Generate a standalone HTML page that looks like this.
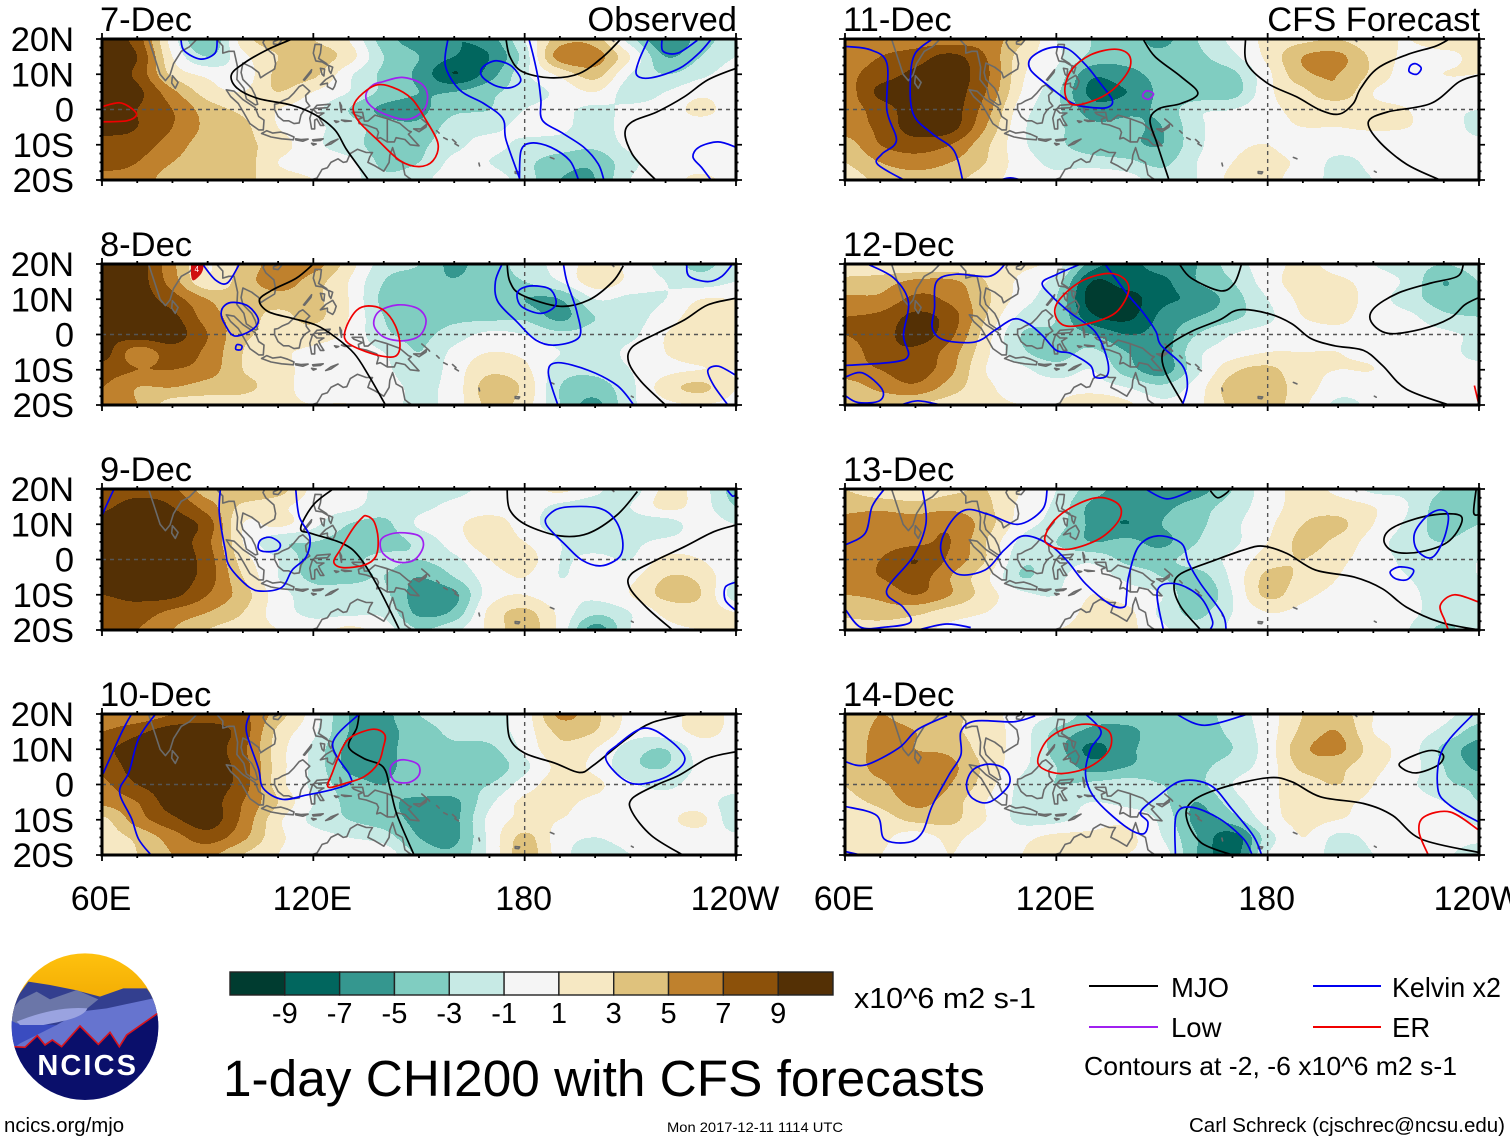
<!DOCTYPE html>
<html lang="en">
<head>
<meta charset="utf-8">
<title>1-day CHI200 with CFS forecasts</title>
<style>
html,body{margin:0;padding:0;background:#fff;width:1510px;height:1142px;overflow:hidden}
svg{display:block;font-family:"Liberation Sans",sans-serif}
</style>
</head>
<body>
<svg id="chart" xmlns="http://www.w3.org/2000/svg" width="1510" height="1142" viewBox="0 0 1510 1142">
  <rect width="1510" height="1142" fill="#fff"/>
  <g id="panels"></g>
  <g id="colorbar"></g>
  <text x="854" y="1008" font-size="29" textLength="182" lengthAdjust="spacingAndGlyphs">x10^6 m2 s-1</text>
  <text x="223" y="1096" font-size="51" textLength="762" lengthAdjust="spacingAndGlyphs">1-day CHI200 with CFS forecasts</text>
  <g>
    <line x1="1089" x2="1158" y1="986" y2="986" stroke="#000" stroke-width="2"/>
    <text x="1171" y="997" font-size="27.5">MJO</text>
    <line x1="1313" x2="1381" y1="986" y2="986" stroke="#0000f0" stroke-width="2"/>
    <text x="1392" y="997" font-size="27.5" textLength="109" lengthAdjust="spacingAndGlyphs">Kelvin x2</text>
    <line x1="1089" x2="1158" y1="1027" y2="1027" stroke="#a020f0" stroke-width="2"/>
    <text x="1171" y="1037" font-size="27.5">Low</text>
    <line x1="1313" x2="1381" y1="1027" y2="1027" stroke="#f00000" stroke-width="2"/>
    <text x="1392" y="1037" font-size="27.5">ER</text>
    <text x="1084" y="1075" font-size="26" textLength="373" lengthAdjust="spacingAndGlyphs">Contours at -2, -6 x10^6 m2 s-1</text>
  </g>
  <text x="4" y="1132" font-size="20.4">ncics.org/mjo</text>
  <text x="667" y="1132" font-size="14" textLength="176" lengthAdjust="spacingAndGlyphs">Mon 2017-12-11 1114 UTC</text>
  <text x="1189" y="1132" font-size="20" textLength="316" lengthAdjust="spacingAndGlyphs">Carl Schreck (cjschrec@ncsu.edu)</text>
  <g transform="translate(0 940) scale(0.33333)">
    <defs>
      <clipPath id="logoClip"><circle cx="255" cy="260" r="220"/></clipPath>
      <linearGradient id="sky" x1="0" y1="0" x2="0" y2="1"><stop offset="0" stop-color="#ffc20e"/><stop offset="1" stop-color="#eea400"/></linearGradient>
    </defs>
    <g clip-path="url(#logoClip)">
      <rect x="30" y="35" width="450" height="200" fill="url(#sky)"/>
      <path d="M30,200 L85,125 L150,135 L225,150 L300,170 L370,145 L440,145 L480,200 L480,400 L30,400z" fill="#333f8f"/>
      <path d="M30,215 L60,180 L110,155 L150,178 L230,150 L295,178 L250,215 L30,260z" fill="#6b76a8"/>
      <path d="M240,215 L320,205 L460,175 L485,220 L485,400 L30,400 L40,320 L100,285 L170,255z" fill="#6674cf"/>
      <path d="M30,240 L50,250 L170,255 L60,310 L40,325 L30,325z" fill="#3a4cc0"/>
      <path d="M50,245 C100,225 180,198 262,205 C250,235 180,245 130,255 L60,255z" fill="#9aa3e0"/>
      <path d="M40,320 L75,322 L112,287 L135,315 L157,300 L185,320 L240,258 L295,313 L330,277 L358,320 L380,285 L470,222 L490,215 L490,500 L20,500z" fill="#0a0f6b" stroke="#d8141e" stroke-width="5"/>
      <text x="112" y="405" font-size="87" font-weight="bold" fill="#fff" textLength="296" lengthAdjust="spacing">NCICS</text>
    </g>
  </g>
</svg>
<script>
// ---- grid axes ----
const lons = [60,70,80,90,100,110,120,130,140,150,160,170,180,190,200,210,220,230,240];
const lats = [20,15,10,5,0,-5,-10,-15,-20];
const lonLabels = [[60,'60E'],[120,'120E'],[180,'180'],[240,'120W']];
const latLabels = [[20,'20N'],[10,'10N'],[0,'0'],[-10,'10S'],[-20,'20S']];
const levels = [-9,-7,-5,-3,-1,1,3,5,7,9];
const bandColors = ['#003c30','#01665e','#35978f','#80cdc1','#c7eae5','#f5f5f5','#f6e8c3','#dfc27d','#bf812d','#8c510a','#543005'];

// ---- CHI200 anomaly (x10^6), rows 20N..20S, columns 60E..120W ----
const chi7 = [
[10,8,0,-5,2,4,3,1,-4,-6,-7,-6,-1,4,4,-2,-7,-4,-2],
[10,9,1,-3,.5,3,4,2,-3,-5,-7,-7,-2,6,6,1,-5,-3,-1],
[10,8.5,2.5,.5,0,3.5,3.5,-.5,-3.5,-5.5,-9,-6,-1.5,1.5,3.8,-1,-3,-1.5,0],
[10,9.5,5.5,2,1,3,1,-1,-3.5,-5,-5,-3.5,-2,-.5,1,-2,-1,.5,0],
[10,9,7,4,2.5,1,-.5,-3,-5.5,-5.5,-3.5,-3,-1,-.5,-1.5,-.5,0,1.5,0],
[10,9,7,4.5,3.5,1,-.5,-2,-4,-4.5,-2,-1.5,-.5,-.5,-2,0,0,0,0],
[8,8,6,4,3.5,2,-.5,-2,-4,-3.5,-1.5,-.5,-1.5,-2,-2.5,-.5,0,0,0],
[8,7,5,4,4,1,0,-.5,-3.5,-3,-.5,-1,-2.5,-4,-4.5,-1.5,0,0,0],
[6,6,4,4,3.5,2,1,0,-2.5,-1.5,0,0,-2,-5,-5,-1,0,1.5,0]];
const chi8 = [
[10,10,5.5,1,3.5,6,6,2,-2,-3,-5.5,-3.5,-2.5,0,1.5,.5,-2,-3.5,-2],
[10,10,6,1.5,4,6,4,1,-3,-4,-4.8,-3.5,-3,-1,2,.5,-1,-2,-1],
[10,10,8,5,3.5,4,3.5,1,-3.5,-3.5,-3.5,-3.5,-5,-5,-1,-1.5,-1,1,1],
[10,10,9.5,6,4,2.5,3.5,1,-3,-4,-3.5,-3.5,-3.5,-5.5,-3,-2,0,2,2],
[9.5,10,10,7,3.5,2.5,2,.5,-2.5,-3.5,-2,-.5,-1,-2.5,-2,-1.5,1,2,2],
[10,6,8,6.5,3,1.5,.5,0,-1,-3,-.5,1,.5,-1,-2,-.5,1,2,2],
[8,7,7,6,3,2,0,0,-.5,-2.5,0,2.5,1.5,-2,-2.5,-1,.5,1,1],
[7,5,5,4,3.5,2,0,.5,0,-1.5,0,4,2.5,-3,-4,-1.5,2,3.5,1],
[6,5,2,2,2,1.5,1,1,0,-1.5,0,3.5,2,-3,-5.5,-1.5,.5,1,.5]];
const chi9 = [
[7,8,7.5,4,5,4,.5,-.3,-1.5,-2,-1.5,-.5,0,1.5,-.5,-2,1.5,0,-4],
[8.5,10,9,6,2.5,1.5,0,-.5,-2,-1.5,-.5,0,0,-1.5,-2,-1,1.5,0,-3],
[10,10,10,8,1,1.5,-.5,-3,-3.5,-.7,.5,2,0,-2,-2,-2,-2,0,-1],
[10,10,10,7.5,1,-2.5,-3,-3.8,-3.8,-2.5,0,2,1,-1,-2,-1.5,-.5,0,0],
[10,10,10,8,2,-1,-4,-3.5,-2.5,-3,-1.5,1,2,-1,-.5,-1,1.5,1,-1],
[10,9.5,10,8,3,-1,-3.5,-3.5,-3,-5,-3,0,1,-1,0,.5,3,2.5,-1],
[9,9.5,9.5,7,4,0,-2,-2,-2.5,-6,-5.5,0,1,-.5,-.5,1,3.5,3,-2],
[8,8,6.5,5,3,0,-1.5,-1.5,-1.5,-5.5,-4.5,1.5,3.5,.5,-2.5,-1,1.5,2,1],
[7,7,5,3,2,1,0,1.5,0,-3,-1.5,1.5,4,.5,-6,-1,.5,1,1]];
const chi10 = [
[5.5,5.5,7,8,7.5,4,0,-5,-5.5,-3,-2,-1.5,0,5.5,3.5,.5,0,2,.5],
[7,8.5,10,10,8,2.5,-.5,-5,-5.5,-4,-2.5,-2,0,3.5,3,0,0,1.5,.5],
[8.5,10,10,10,7.5,2,-1.5,-5.5,-5.5,-4,-3.5,-3.5,-.5,2.5,1,-2,-3,0,0],
[7.5,10,10,10,8,2,-1.5,-5.5,-5.5,-4,-4,-4.5,-1.5,1.5,.5,-2.5,-3,-.5,0],
[6.5,9,10,10,8,2,-1.5,-4,-5,-3.5,-3.5,-3,0,2,1.5,-.7,-1.5,0,0],
[5.5,7,10,10,7,3,-1,-3.5,-4.5,-5.5,-5.5,-1.5,1.5,1.5,.5,0,0,0,-2],
[2.5,6,8.5,10,6.5,1.5,-1.5,-3,-4,-5.5,-5.5,-.5,1.5,1,0,0,.5,1.5,-2.5],
[2,3.5,6,8,5.5,1.5,0,-1,-2,-5,-5.5,-.5,3.5,0,-1,0,0,0,-.5],
[1.5,3,5,5.5,3,1,0,1,.5,-3.5,-4.5,-.5,4,0,-2.5,-1,0,0,0]];
const chi11 = [
[5.5,6,6,6,6,3.5,-1,-3,-4,-5.5,-3,-.5,1.5,2.5,3,1.5,1,2,1],
[6,7,8,9.5,7,2,-.5,-3.5,-4.5,-4.5,-3.5,-1.5,1.5,5,5.5,2.5,.5,.5,1.5],
[6.5,8,9.5,10,7.5,1.5,-1.5,-6.5,-5.5,-4.5,-4,-3.5,.5,4.5,5,2.5,0,1,1],
[6,9.5,10,10,7,1,-2.5,-7.5,-7,-4.5,-4.5,-4,.5,2.5,4.5,1,0,0,0],
[6,8,10,10,6,0,-2.5,-6,-5.5,-4.5,-1.5,-1,.5,1.5,1.5,1.5,1,-.5,-1],
[6,7.5,10,9.8,5,-.5,-2.5,-4.5,-4.5,-5,-1.5,0,.5,1,1,1.2,1,0,-1.5],
[4,7,8,7,3.5,-.5,-2.5,-4,-4.5,-5,-1.5,.5,1,0,0,0,0,0,-.5],
[3,5,6,5,3,0,-1.5,-2,-2.5,-3.5,-1,1,1.5,.5,-1.5,-.5,0,0,0],
[2,3.5,4,3.5,2,0,-.5,1,0,-2,-1,1.5,1.5,0,-1.5,-1,0,0,0]];
const chi12 = [
[2,1.5,1,1,2,1.5,0,-6,-7.5,-6,-5,-2,0,1.5,0,-1,-2,-3,-2],
[3.5,4,5.5,5.5,3,.5,-2,-9,-8,-7.5,-5,-3,0,2,1.5,0,-1.5,-5,-3],
[5.5,5.5,7.5,6.5,3.5,0,-3,-10,-10,-7.5,-6.5,-4,-1,1.5,2,0,-2,-4,-3.5],
[7,7.5,9.5,8,3,-1.5,-3,-8.5,-9.5,-6.5,-5,-3.5,-1.5,1,1.5,0,-.5,-2.5,-3],
[7,8,10,7.5,2,-3,-3.5,-5,-7,-6,-3,-1,0,0,.5,0,0,-.5,-1.5],
[6,8,8.5,6,1.5,-2.5,-4,-2.5,-5,-6,-1.5,0,1,1,1,.5,0,0,-2],
[6,7,8,5.5,1,-.5,-2,-1,-4,-6,-1.5,2.5,3.5,1.5,1,1,0,0,0],
[4,5.5,6.5,4,1.5,0,0,0,-1,-2.5,0,4,4,2,0,0,0,0,0],
[3,3.5,3,2,1.5,1,1,3,1.5,-.5,.5,3.5,4,1.5,-1.5,-.5,0,0,0]];
const chi13 = [
[3,1.5,1,2.5,3,1,-1,-4,-6,-6.5,-6,-3,0,1.5,.5,-1.5,-1.5,-3,-3],
[4.5,4.5,4,4.5,3.5,.5,-1.5,-5.5,-6,-5.5,-4,-2,0,2,2,1,-1,-4,-3],
[5.5,6,6,6.5,4,0,-2,-5.5,-7,-5,-3.5,-1.5,.5,3,3.5,1,-1.5,-4,-3],
[5.5,6,6.5,7,3,-1.5,-3,-5,-4.5,-5.5,-3,-1.5,1,3.5,2.5,0,-2,-3,-1.5],
[6,7,9,6.5,3,-2.5,-2,-1.5,-3.5,-3.5,-2,-.5,2,3,1.5,0,-1.5,-2,-1],
[6,7,8,5,1.5,-3,-1.5,0,-1.5,-3,-4,-.5,3.5,2.5,1,0,-1,-2,-1],
[5,5.5,7,5,2,-.5,-1,1,0,-1,-5,-1,3.5,1.5,.5,0,-.5,-2,-1.5],
[3.5,4,3.5,2,1,0,0,1.5,1.5,-1.5,-3.5,-1,1,.5,0,0,-.5,-2,-2],
[2,2,1.5,.5,0,1,1,1.5,1.5,-.5,-2.5,-.5,1,0,0,0,-1,-3.5,-1.5]];
const chi14 = [
[3.5,5,4,3.5,2,0,-1,-4,-4,-4,-4,-2,0,3,4,1,0,-.5,-2],
[3.5,5.5,5,3.5,2,0,-3.5,-5.5,-5.5,-4,-4,-2.5,0,3.5,5,1,0,-1.5,-4],
[3,6,5,4.5,2,0,-4,-7.5,-5.5,-4,-4,-3,0,4.5,5.5,2,0,-3.5,-6],
[3,6,6,5.5,2.5,-.5,-3,-6,-5,-4,-3.5,-2,0,3.5,3.5,1.5,0,-3,-5.5],
[3,4.5,6.5,5,2,-1.5,-3,-2.5,-2,-3,-3.5,-1,.5,2,3,1,-.5,-2.5,-3.5],
[2.5,3.5,5.5,4,1,-1.5,-2,-1,-1.5,-2.5,-5,-2,.5,1.5,1.5,.5,0,-1,-3],
[1.5,2,3.5,3.5,1,-1.5,-1.5,0,.5,-1.5,-5.5,-4,0,1.5,1,.2,0,0,-1.5],
[1.5,1.5,0,1.5,0,.5,1.5,1.5,1.5,-1,-5,-8,-2,1,-1.5,-.5,0,0,-.5],
[1,1,0,1,0,1,1.5,1.5,1,0,-5,-8,-1,.5,-2,-1,0,-.5,-2.5]];

// ---- filtered-wave contours, each line is a list of [lon,lat] ----
const mjo7 = [
[[114,20],[107,17],[100.4,13.2],[96.7,9.8],[98.4,6],[104.4,3.1],[114,1.2],[120.7,-1.6],[126.2,-5.9],[129.6,-11.6],[135.7,-20]],
[[174.7,20],[175.8,15],[179.2,10.8],[187.3,9],[195.5,10.2],[202.3,15],[207.3,20]],
[[240,11.7],[232,8.4],[225.3,3.6],[217.5,-.7],[210.5,-3.5],[208.5,-6.9],[210.5,-12.6],[214.5,-17.3],[217.3,-20]]];
const kelvin7 = [
[[82.4,20],[83.3,16.7],[88,14.3],[92.1,16],[92.7,20]],
[[158.2,20],[157.5,12.4],[161.6,5.5],[168.4,1.7],[173.8,-2.6],[174.7,-8.6],[178.5,-19.4]],
[[172.4,13.8],[176.4,12.2],[178.9,8.4],[176.4,6.3],[172.4,6.5],[168.3,8.9],[167.6,11.2],[169.6,13.1]],
[[181.2,20],[182.5,15],[183.9,8.4],[184.6,2.7],[185,-3],[190.7,-6.7],[196.9,-10.8],[200.9,-15.5],[202.5,-20]],
[[178.5,-19.7],[179,-11.6],[182,-9.5],[187.4,-10.7],[192.8,-14.5],[195.2,-19.7]],
[[215.2,20],[212.5,14],[211.8,9.8],[215.9,9],[224,11.7],[229.5,16],[233,20]],
[[219,20],[219.3,16.5],[223.5,16],[229,19.6]],
[[240,-10.7],[234.9,-9.2],[229.5,-10.7],[227.8,-13.5],[230.2,-16.4],[232.7,-19.7]]];
const low7 = [[[139.8,7.9],[145.2,9.1],[150.6,7.4],[152.4,4.1],[151.3,-.2],[146.6,-2.8],[139.8,-1.1],[135.7,1.7],[135,4.6],[137,7]]];
const er7 = [
[[137.7,6.9],[142.5,6.3],[147.9,3.1],[152,-3],[155.4,-9.7],[154,-14.5],[150,-16.2],[144.6,-14.5],[138.4,-8.8],[133,-3.5],[131.3,.3],[133,3.6]],
[[60,.8],[65,1.9],[68.4,.3],[69.8,-1.6],[67,-3.2],[60,-3.5]]];

const mjo8 = [
[[120,20],[115.2,16],[108.5,12.7],[104.7,9.8],[107.2,6.5],[114,4.6],[120.7,2.7],[126.2,-.7],[131.6,-5.4],[135.7,-11.6],[140.5,-20]],
[[175,20],[175.8,15],[179.2,11.2],[190,8],[198.2,9.8],[205,15],[208,19.5]],
[[240,10.3],[232,8.4],[225.3,4.1],[217.5,.3],[210.6,-3.5],[209.5,-7.8],[213.2,-13.5],[220,-20]]];
const kelvin8 = [
[[88.5,20],[92.2,15.5],[95.6,14.6],[99,20]],
[[97.6,9.1],[101.7,7.9],[104.4,4.1],[102.4,1.2],[97.6,-.4],[95,2.7],[93.8,6],[95,8.4]],
[[98.3,-2.9],[99.7,-3.2],[99.4,-4.3],[98,-4.2]],
[[173.6,20],[171.7,15],[172.4,9.3],[177.8,3.6],[183.2,-1.6],[188.6,-3],[195.5,-.7],[194.8,6.5],[192,15],[191,20]],
[[182.7,13.8],[187.4,12.7],[188.8,8.4],[184.6,6],[179.2,7.9],[177.8,11.2],[179.2,13.1]],
[[189.4,-20],[186.7,-10.7],[189.4,-8],[198.2,-10.2],[206.3,-14.5],[211,-20]],
[[226,20],[226.7,16.5],[232,15],[236,16.5],[239,20]],
[[240,-11.6],[235,-9],[232,-10.2],[233.7,-14.5],[237.7,-20]]];
const low8 = [[[144,8.4],[149.6,7.4],[152,4.1],[150.3,-.2],[145.5,-1.8],[140,-.7],[137.2,2.7],[138.6,6.5]]];
const er8 = [[[135.7,8.1],[139.8,7],[143.2,2.7],[144.6,-3],[143.2,-6.2],[138.4,-5.9],[131.6,-3.5],[128.9,-1.1],[129.6,2.7],[132.3,6.9]]];
const erPatch8 = [[85.4,20],[88.4,20],[88.2,17.6],[86,15.5],[85.4,17]];

const mjo9 = [
[[125.6,20],[120,15.5],[116.4,8.9],[119.4,7.4],[128.2,4.6],[133,.8],[138.4,-7.8],[144.5,-20]],
[[175,20],[175.8,14],[180.5,9.8],[190,6.7],[198,7.4],[206.3,12.7],[212,19.3]],
[[240,9.8],[233.7,7.9],[225.3,3.6],[217.3,-.2],[210.4,-4],[209.7,-7.8],[214.5,-13.5],[222,-20]]];
const kelvin9 = [
[[63.4,20],[60.3,13.1],[60,10.3]],
[[93.6,20],[93.3,13.1],[95,2.7],[96.3,-2.1],[101.7,-7.8],[105.8,-9],[111.2,-7.8],[114,-3],[118,.8],[119,6.5],[116,12.2],[115,20]],
[[107.8,6.3],[110.5,4.6],[109.9,2.7],[106.5,2.2],[104.4,3.1],[105,5.5]],
[[191.2,14.8],[201,14.6],[205.7,11.2],[207.8,5.5],[207,.8],[201.7,-1.8],[196.3,-.2],[191.6,4.1],[186.2,9.8],[186.9,12.7]],
[[237.3,20],[239,18],[240,18.5]],
[[240,-6.4],[237,-7.8],[237,-11.6],[240,-14.5]]];
const low9 = [[[144.5,7.6],[150,6.7],[151.2,3.6],[148.5,-.2],[143.8,-.7],[139.8,1.7],[139,5],[140.5,6.7]]];
const er9 = [[[135,12.4],[137.2,10.8],[138.4,6],[137.7,.8],[134.4,-1.6],[128.3,-2.3],[125.8,-.7],[127.6,2.7],[131,8.4],[133.7,11.7]]];

const mjo10 = [
[[133,20],[132.3,16],[130,10.8],[134.3,7.4],[139.8,5],[141.8,-1.1],[143.8,-8.8],[148.6,-20]],
[[175,20],[175.8,13],[180,8.9],[188.8,6],[195.5,3.4],[199.6,5.5],[209,13],[216,17.5],[226.7,20]],
[[240,9.3],[232,7.4],[224,2.7],[217.3,-.2],[210.5,-4],[210.5,-7.8],[216,-14.5],[224.9,-20]]];
const kelvin10 = [
[[68.4,20],[65.7,15],[60.3,3.1]],
[[75.2,20],[70.4,13],[67.7,3.6],[65,-2.1],[68.4,-9.7],[70.4,-15.5],[73.9,-20]],
[[102,20],[101,15],[104.4,4.6],[105.8,-1.1],[111.2,-4.2],[118,-3],[124.8,-1.6],[130.3,.3],[130.3,2.7],[125.5,11.7],[133,20]],
[[213.8,16],[220.6,13],[225.5,7.4],[221.2,2.7],[213,.1],[207.7,1.7],[203,7.4],[206.3,11.2]]];
const low10 = [[[145.9,7],[149.7,5.7],[150,2.7],[147.2,.6],[143.1,1],[141.8,4.1],[143.1,6.3]]];
const er10 = [[[137,15.7],[140.3,14.1],[139.8,10.3],[138.4,6],[134.4,2.2],[129,.3],[124.2,-.7],[125.5,3.6],[128.2,10.3],[130.9,13.6]]];

const mjo11 = [
[[144.6,20],[148,15],[155.4,9.3],[160.2,4.6],[155.4,1.7],[149.3,.3],[146.6,-3],[148.6,-9.7],[152,-20]],
[[173.7,20],[174.1,13.1],[180,7.4],[188.2,3.6],[195,-.2],[200.3,-1.3],[204.3,1.7],[206.4,6],[211.2,11.7],[219.4,15.5],[227.5,17.9],[231.6,20]],
[[240,9.8],[234.4,7.9],[226.3,1.7],[214,-.7],[208.6,-3.5],[211.4,-8.8],[219.4,-15.5],[229,-20]]];
const kelvin11 = [
[[60,17.9],[67,17],[71.9,13.1],[71.9,-.2],[74.6,-8.8],[70.5,-12.6],[69.2,-15.5],[76.7,-20]],
[[84.8,20],[80,16],[78.6,9.3],[79.3,-1.1],[84.8,-6.9],[90.9,-11.6],[93.4,-20]],
[[117.4,17.3],[123,17.3],[128.4,12.6],[132.5,7.4],[135.9,2.7],[134.5,.6],[129.7,.6],[124.3,1.9],[117.4,7],[112.7,11.2],[112.7,14.5]],
[[222,13],[223.6,11.7],[222.3,10],[220.2,10.7],[220.5,12.4]],
[[104,-20],[107,-19.4],[110,-20]]];
const low11 = [[[146,5.3],[147.6,4.4],[146.2,2.9],[144.6,3.6],[144.9,4.8]]];
const er11 = [[[136.5,17.1],[140.6,15.5],[140.6,11.2],[135.9,5.5],[129.7,2.2],[124.3,1.5],[122.4,5.5],[124.3,11.2],[129.7,15.5]]];

const mjo12 = [
[[154.9,20],[158.3,16],[166.5,12.4],[170.5,14.5],[172.6,20]],
[[156.2,-20],[151.4,-11.6],[150,-6.9],[151.4,-3.5],[158.2,.8],[166.3,4.1],[171.8,7],[180,6],[186.8,3.1],[192.2,-1.1],[199,-3.2],[207.2,-4.5],[212.6,-8.8],[219.4,-15.5],[231.6,-20]],
[[235.6,20],[233.9,16.5],[226.4,14.6],[216.9,11.7],[210.1,7.4],[209.4,3.6],[214.2,.3],[223.6,1.5],[231.8,4.6],[235.9,8.4],[240,10.5]]];
const kelvin12 = [
[[66.4,20],[73.9,16],[78,9.3],[76.6,-.2],[78,-5.9],[73.9,-7.8],[60,-8.8]],
[[60,-12.1],[65,-10.9],[70.5,-15.5],[69.8,-18.8],[63.7,-19.3],[60,-17.3]],
[[75.9,-20],[80.7,-18.8],[87.2,-20]],
[[105.5,20],[101,16.5],[91.6,17.1],[86,15],[85.4,7.4],[84.8,1.7],[88.2,-1.6],[97,-2.1],[102.5,1.2],[107.9,4.4],[112,3.1],[116,-.2],[120,-4.5],[124.2,-5.4],[129.7,-8.8],[131,-12.1],[134.4,-11.6],[134.4,-6.9],[131,.8],[124.2,6],[118.8,10.8],[116,14.6],[120,17],[126.9,20]],
[[133.8,20],[140,11.7],[144.8,6],[148.3,.8],[149.7,-3],[155.8,-8.8],[157.2,-14.5],[155.8,-20]]];
const low12 = [];
const er12 = [
[[134.4,17.3],[139.2,15.9],[140.5,12.1],[137.1,6.4],[131,3.6],[122.9,2.4],[119.7,5.5],[120.8,9.8],[126.9,15]],
[[238.7,-14.5],[239.6,-18.3],[240,-20]]];

const mjo13 = [
[[163.7,19.5],[165.8,17.5],[168.5,19],[169.2,20]],
[[161,-20],[155.4,-13.5],[153.4,-7.8],[155.4,-4],[165,-.2],[173.2,2.7],[178.6,3.8],[185.5,1.7],[193.6,-3],[204.6,-5],[212.6,-8.3],[219.4,-13.5],[229,-17.8],[240,-20]],
[[226.2,12.5],[235,12.2],[231.8,5.5],[223.6,2.2],[216,2.2],[213,5.5],[216,9.3]],
[[239.2,20],[238.5,13.3],[240,12.7]]];
const kelvin13 = [
[[71.2,20],[67.7,15],[65.7,7.4],[60,4.1]],
[[82,20],[83,10.3],[79.3,.8],[71.8,-8.8],[76.5,-13.5],[78.6,-17.8],[71.2,-19.2],[64.4,-19.2],[60,-14]],
[[117.4,20],[116,14.1],[109.2,10],[101,12.7],[94.3,14.1],[89.5,9.8],[87.2,2.7],[91.6,-4],[99.7,-3],[105.2,2.7],[110.6,6.7],[117.4,4.6],[122.9,-.2],[128.3,-6.9],[135.1,-12.6],[139.2,-13.5],[139.9,-10.7],[140.5,-5],[143.3,3.6],[148.8,6.7],[155.5,4.6],[157.6,-1.1],[161,-6.9],[167.2,-15.5],[168.2,-20]],
[[150.4,-20],[148.7,-8.8],[154.1,-6.9],[160.9,-10.7],[164.3,-17.3],[163.6,-20]],
[[80.7,-20],[88.8,-18.3],[95.7,-19.3]],
[[145.3,20],[151.4,17.2],[158.3,19.5]],
[[229,14.1],[231.3,12.2],[229.9,5.5],[226.5,.5],[222.4,2.7],[221.7,7.4],[225.1,12.2]],
[[217.5,-2.1],[221.4,-3],[219.6,-5.7],[216.2,-5.4],[214.8,-3.5]]];
const low13 = [];
const er13 = [
[[132.4,17.6],[137.8,15.5],[137.8,11.2],[132.4,6],[124.2,3],[118.8,3.6],[116.7,6],[119.5,11.2],[125.6,15.5]],
[[240,-12.1],[233,-10],[229,-13],[230.3,-17.3],[231.3,-20]]];

const mjo14 = [
[[170,-20],[161.1,-16.5],[157,-9.7],[158.4,-4.9],[166.5,-1.1],[180,1.9],[186.8,.8],[195,-3.5],[207.2,-5.4],[215.5,-8.8],[223.6,-15.5],[240,-19.3]],
[[225.7,9.6],[229.8,8.4],[228.4,5.5],[222.3,3.3],[218.2,4.6],[218,6.5]]];
const kelvin14 = [
[[60,6.5],[65.7,5.5],[75.2,10.3],[80.6,15.6],[89,19.5]],
[[114,19.5],[107.9,17.8],[97,18],[92.9,15],[92.9,8.4],[89.5,2.7],[84.8,-5.9],[82,-13.5],[78,-16.4],[71.2,-15.5],[69,-8.8],[60,-6.2]],
[[101,5.8],[105.8,4.1],[106.5,-.2],[101,-5],[96.3,-4],[94.5,-.2],[96.3,4.1]],
[[128.3,20],[132.7,15],[129.7,10],[128.3,2.7],[131,-4],[139.2,-11.6],[144.6,-14],[146,-10.7],[143.9,-7.8],[148.7,-3.5],[155.5,1],[163.7,-.2],[169.8,-6.9],[175.9,-14.5],[178.3,-20]],
[[153.8,-20],[154,-8.8],[158.2,-6.4],[166.3,-9.7],[173.2,-15.5],[175.6,-20]],
[[154,20],[162.1,16.8],[174.4,20]],
[[238.4,20],[229.7,10],[228.3,-1.1],[231.7,-5.9],[240,-10.7]],
[[60,-19],[64.4,-20]]];
const low14 = [];
const er14 = [
[[129.4,17.1],[135,15],[135,9.8],[129.4,5],[121.5,3.1],[116,4.6],[114.8,7.4],[117.5,12.7],[122.9,16]],
[[240,-13],[231.8,-7.8],[224.4,-9.2],[223,-13.5],[225.6,-20]]];

// ---- coastlines [lon,lat] ----
const coastlines = [
[[72.9,21],[75.2,14],[76.5,10],[78,8.2],[79.3,9.8],[80.3,13],[82.5,16.5],[84.8,17.8],[88,21]],
[[80,9.6],[81.6,7.7],[80.8,6],[79.8,7.5],[80,9.6]],
[[92,20.5],[94.3,18],[94.3,16],[96,16.5],[97.5,16.5],[98.5,12],[98.3,8.5],[100.3,6],[101,3],[103.5,1.3],[104.2,1.5],[103.5,4],[102.5,6],[100,8.5],[99.5,10.5],[100,13.2],[101,12.7],[102.5,12],[104.5,10.5],[105,9],[106.5,10],[109,11.5],[109.3,13],[108.8,15.5],[106.5,17.5],[105.7,19],[106.5,20.5]],
[[108.7,19.2],[110.5,20],[111,19.6],[110,18.4],[108.7,18.6],[108.7,19.2]],
[[95.3,5.6],[97.5,5.2],[100,2.8],[103.5,.5],[104.5,-2],[106,-3],[105.8,-5.8],[104.5,-5.8],[102,-4],[100.3,-1],[98.7,1.7],[96.5,3.7],[95.3,5.6]],
[[105.3,-6.8],[106.8,-6],[108.5,-6.7],[110.8,-6.4],[112.7,-7],[114.5,-7.8],[114.3,-8.6],[111,-8.3],[108,-7.8],[105.5,-6.9]],
[[115,-8.3],[116.5,-8.5],[118.5,-8.4],[117,-9],[115,-8.6],[115,-8.3]],
[[119.8,-8.6],[122.8,-8.3],[122,-8.8],[120,-8.9],[119.8,-8.6]],
[[123.5,-10.2],[125,-9.2],[127,-8.4],[125,-9.8],[123.5,-10.2]],
[[119.5,-9.6],[120.8,-9.8],[120,-10.1],[119.5,-9.6]],
[[109,1.5],[110,1.7],[111.3,2.5],[113,3.2],[114.5,4.7],[116,6.5],[117,7],[119,5.2],[117.8,4],[118,2.3],[119,1],[117.5,0],[116.5,-1.5],[116,-3.8],[114.5,-4],[113,-3.2],[111.5,-3.2],[110,-2],[109,0],[109,1.5]],
[[119.5,-5.5],[120.4,-5.5],[120.4,-3],[121,-2.7],[122,-4.5],[123,-4.5],[122,-3],[121.5,-1.9],[123,-1],[121,-1],[120,0],[121,1.2],[124.8,1.5],[124,.5],[120.5,.3],[119.8,0],[119,-2.5],[119.5,-5.5]],
[[120.5,18.5],[122.3,18.4],[122,16],[121.5,14.5],[123.8,13],[124,12.6],[122.5,13.5],[120.7,13.8],[120,16],[120.5,18.5]],
[[122,7],[123.5,8.5],[125.5,9.7],[126.5,8],[126,6.5],[125.5,5.7],[124,6.5],[124,7.5],[122,7]],
[[122,11.7],[123.2,11.5],[123,9.5],[122.5,10],[122,11.7]],
[[124.3,12.5],[125.5,12],[125,10.2],[124.5,11],[124.3,12.5]],
[[117.2,8.4],[119.5,11.3],[119.3,10.5],[117.5,8.3]],
[[127.5,2],[128,1],[128,-.8],[127.7,.5],[127.5,2]],
[[128,-3],[130.8,-3.3],[129,-3.4],[128,-3]],
[[126,-3.2],[127.2,-3.4],[126.5,-3.7],[126,-3.2]],
[[131,-.8],[134,-.8],[134.5,-3.3],[135.5,-3.3],[137.5,-1.6],[141,-2.6],[144.5,-3.9],[147,-6],[147.8,-6.3],[147,-7],[150,-10.3],[147.5,-10],[146,-8.5],[143.5,-8],[143,-9.2],[141,-9.2],[139,-8],[138,-8.3],[138.5,-6.5],[138,-5.5],[135,-4.4],[133,-4],[132.8,-2.8],[134,-2.3],[131.5,-1.3],[131,-.8]],
[[141,-2.6],[141,-9.2]],
[[148.5,-5.5],[150.5,-5.5],[152.2,-4.2],[152,-5],[150,-6.3],[148.5,-5.5]],
[[150.8,-2.7],[152.7,-4.3],[153,-4.7]],
[[155,-6],[155.7,-6.7]],[[157,-8],[158,-8.5]],[[159.5,-8.5],[160.5,-9.4]],[[160.2,-9.7],[161.2,-10.3]],
[[167,-15.2],[167.2,-16]],
[[177.3,-17.6],[178.6,-17.7],[178.3,-18.2],[177.3,-18.1],[177.3,-17.6]],
[[187.3,-13.6],[188.3,-14]],[[210.3,-17.5],[210.8,-17.8]],[[204.5,20],[205.3,19.3]],
[[118,-20.3],[121,-19.5],[122.5,-17],[124,-16.5],[125,-15],[127,-14],[128.5,-15],[129.5,-14.8],[130.5,-12.5],[132.5,-11.3],[135,-12.2],[136.8,-12.2],[136,-13.5],[135.5,-15],[137.5,-16],[140,-17.5],[141.5,-15],[141.7,-13],[142.5,-10.8],[143.5,-14],[145.3,-15],[146,-18.5],[147,-19.3],[149,-20.5]]];

// ---- panel list ----
const panels = [
 {name:'7-Dec',side:'Observed',col:0,row:0,grid:chi7,mjo:mjo7,kelvin:kelvin7,low:low7,er:er7},
 {name:'8-Dec',side:'',col:0,row:1,grid:chi8,mjo:mjo8,kelvin:kelvin8,low:low8,er:er8},
 {name:'9-Dec',side:'',col:0,row:2,grid:chi9,mjo:mjo9,kelvin:kelvin9,low:low9,er:er9},
 {name:'10-Dec',side:'',col:0,row:3,grid:chi10,mjo:mjo10,kelvin:kelvin10,low:low10,er:er10},
 {name:'11-Dec',side:'CFS Forecast',col:1,row:0,grid:chi11,mjo:mjo11,kelvin:kelvin11,low:low11,er:er11},
 {name:'12-Dec',side:'',col:1,row:1,grid:chi12,mjo:mjo12,kelvin:kelvin12,low:low12,er:er12},
 {name:'13-Dec',side:'',col:1,row:2,grid:chi13,mjo:mjo13,kelvin:kelvin13,low:low13,er:er13},
 {name:'14-Dec',side:'',col:1,row:3,grid:chi14,mjo:mjo14,kelvin:kelvin14,low:low14,er:er14}];

const NS = 'http://www.w3.org/2000/svg';
const W = 634, H = 141;
function make(tag, attrs, parent){
  const el = document.createElementNS(NS, tag);
  for (const k in attrs) el.setAttribute(k, attrs[k]);
  if (parent) parent.appendChild(el);
  return el;
}
function cr(a,b,c,d,t){return .5*(2*b+(c-a)*t+(2*a-5*b+4*c-d)*t*t+(3*b-a-3*c+d)*t*t*t);}
function clampIdx(i,n){return i<0?0:(i>=n?n-1:i);}
function sample(grid,lon,lat){
  const fx=(lon-lons[0])/(lons[1]-lons[0]), fy=(lats[0]-lat)/(lats[0]-lats[1]);
  const ix=Math.floor(fx), iy=Math.floor(fy), tx=fx-ix, ty=fy-iy, v=[];
  for(let j=-1;j<=2;j++){
    const r=grid[clampIdx(iy+j,lats.length)];
    v.push(cr(r[clampIdx(ix-1,lons.length)],r[clampIdx(ix,lons.length)],r[clampIdx(ix+1,lons.length)],r[clampIdx(ix+2,lons.length)],tx));
  }
  return cr(v[0],v[1],v[2],v[3],ty);
}
function band(v){let i=0;while(i<levels.length&&v>=levels[i])i++;return i;}
function isOpen(p){
  const e=q=>Math.abs(q[1])>=18.3||q[0]<=60.5||q[0]>=239;
  return e(p[0])||e(p[p.length-1]);
}
function smoothPath(pts,sx,sy){
  const P=pts.map(q=>[sx(q[0]),sy(q[1])]), n=P.length, open=isOpen(pts);
  const g=i=>open?P[clampIdx(i,n)]:P[(i+n)%n];
  let d='M'+P[0][0].toFixed(1)+' '+P[0][1].toFixed(1);
  const last=open?n-1:n;
  for(let i=0;i<last;i++){
    const a=g(i-1),b=g(i),c=g(i+1),e=g(i+2);
    d+='C'+(b[0]+(c[0]-a[0])/6).toFixed(1)+' '+(b[1]+(c[1]-a[1])/6).toFixed(1)+' '+(c[0]-(e[0]-b[0])/6).toFixed(1)+' '+(c[1]-(e[1]-b[1])/6).toFixed(1)+' '+c[0].toFixed(1)+' '+c[1].toFixed(1);
  }
  return d+(open?'':'Z');
}

const root = document.getElementById('panels');
const lineStyles = [['mjo','#000'],['kelvin','#0000f0'],['low','#a020f0'],['er','#f00000']];

panels.forEach(function(p,idx){
  const x0 = p.col===0 ? 102 : 845;
  const y0 = 39 + p.row*225;
  const sx = lon => x0 + (lon-60)*W/180;
  const sy = lat => y0 + (20-lat)*H/40;
  const g = make('g',{},root);
  
  

  const clip = make('clipPath',{id:'clip'+idx},g);
  make('rect',{x:x0,y:y0,width:W,height:H},clip);

  // filled contours
  const fill = make('g',{'shape-rendering':'crispEdges'},g);
  
  
  const d = bandColors.map(()=>[]);
  for(let py=0;py<H;py++){
    const lat = 20-(py+.5)*40/H;
    let start=0, cur=band(sample(p.grid,60+.5*180/W,lat));
    for(let px=1;px<=W;px++){
      const b = px<W ? band(sample(p.grid,60+(px+.5)*180/W,lat)) : -1;
      if(b!==cur){
        d[cur].push('M'+(x0+start)+' '+(y0+py)+'h'+(px-start)+'v1h'+(start-px)+'z');
        start=px;cur=b;
      }
    }
  }
  d.forEach(function(parts,i){
    if(!parts.length) return;
    const band_ = make('path',{d:parts.join(''),fill:bandColors[i]},fill);
    
    
  });

  // coastlines and contours
  const over = make('g',{'clip-path':'url(#clip'+idx+')',fill:'none'},g);
  
  
  const coast = make('path',{d:coastlines.map(c=>'M'+c.map(q=>sx(q[0]).toFixed(1)+' '+sy(q[1]).toFixed(1)).join('L')).join(''),stroke:'#6a6a6a','stroke-width':1.6,'stroke-linejoin':'round','stroke-linecap':'round'},over);
  
  

  const eq = make('line',{x1:sx(60),x2:sx(240),y1:sy(0),y2:sy(0),stroke:'#555','stroke-width':1.4,'stroke-dasharray':'4 4'},over);
  
  
  const dl = make('line',{x1:sx(180),x2:sx(180),y1:sy(20),y2:sy(-20),stroke:'#555','stroke-width':1.4,'stroke-dasharray':'4 4'},over);
  
  

  lineStyles.forEach(function(s){
    p[s[0]].forEach(function(line){
      const c = make('path',{d:smoothPath(line,sx,sy),stroke:s[1],'stroke-width':1.7},over);
      
      
    });
  });
  if(p.name==='8-Dec'){
    const patch = make('path',{d:smoothPath(erPatch8,sx,sy)+'Z',fill:'#d01010',stroke:'#d01010'},over);
    
    
    const four = make('text',{x:sx(86.9),y:sy(17.8),'font-size':8,fill:'#fff','text-anchor':'middle'},over);
    
    
    four.textContent='4';
  }

  // ticks
  let ticks='';
  for(let lon=60;lon<=240;lon+=10){
    const major=(lon-60)%60===0, len=major?6:3;
    ticks+='M'+sx(lon)+' '+y0+'v'+(-len)+'M'+sx(lon)+' '+(y0+H)+'v'+len;
  }
  for(let lat=-20;lat<=20;lat+=2.5){
    const major=lat%10===0, len=major?6:2.5;
    ticks+='M'+x0+' '+sy(lat)+'h'+(-len)+'M'+(x0+W)+' '+sy(lat)+'h'+len;
  }
  const tk = make('path',{d:ticks,stroke:'#000','stroke-width':1.8,fill:'none'},g);
  
  
  const fr = make('rect',{x:x0,y:y0,width:W,height:H,fill:'none',stroke:'#000','stroke-width':3},g);
  
  

  // titles
  const t1 = make('text',{x:x0-2,y:y0-8,'font-size':34.5},g);
  
  
  t1.textContent=p.name;
  if(p.side){
    const t2 = make('text',{x:x0+W+1,y:y0-8,'font-size':34.5,'text-anchor':'end'},g);
    
    
    t2.textContent=p.side;
  }
  if(p.col===0){
    latLabels.forEach(function(l){
      const t = make('text',{x:74,y:sy(l[0])+12,'font-size':34.5,'text-anchor':'end'},g);
      
      
      t.textContent=l[1];
    });
  }
  if(p.row===3){
    lonLabels.forEach(function(l){
      const t = make('text',{x:sx(l[0])-1,y:910,'font-size':34,'text-anchor':'middle'},g);
      
      
      t.textContent=l[1];
    });
  }
});

// ---- colorbar ----
const cb = document.getElementById('colorbar');
const cbW = 603/bandColors.length;
bandColors.forEach(function(c,i){
  const r = make('rect',{x:230+i*cbW,y:972,width:cbW,height:23,fill:c,stroke:'#222','stroke-width':1.4},cb);
  
  
});
levels.forEach(function(v,i){
  const t = make('text',{x:230+(i+1)*cbW,y:1023,'font-size':29,'text-anchor':'middle'},cb);
  
  
  t.textContent=String(v);
});
</script>
</body>
</html>
